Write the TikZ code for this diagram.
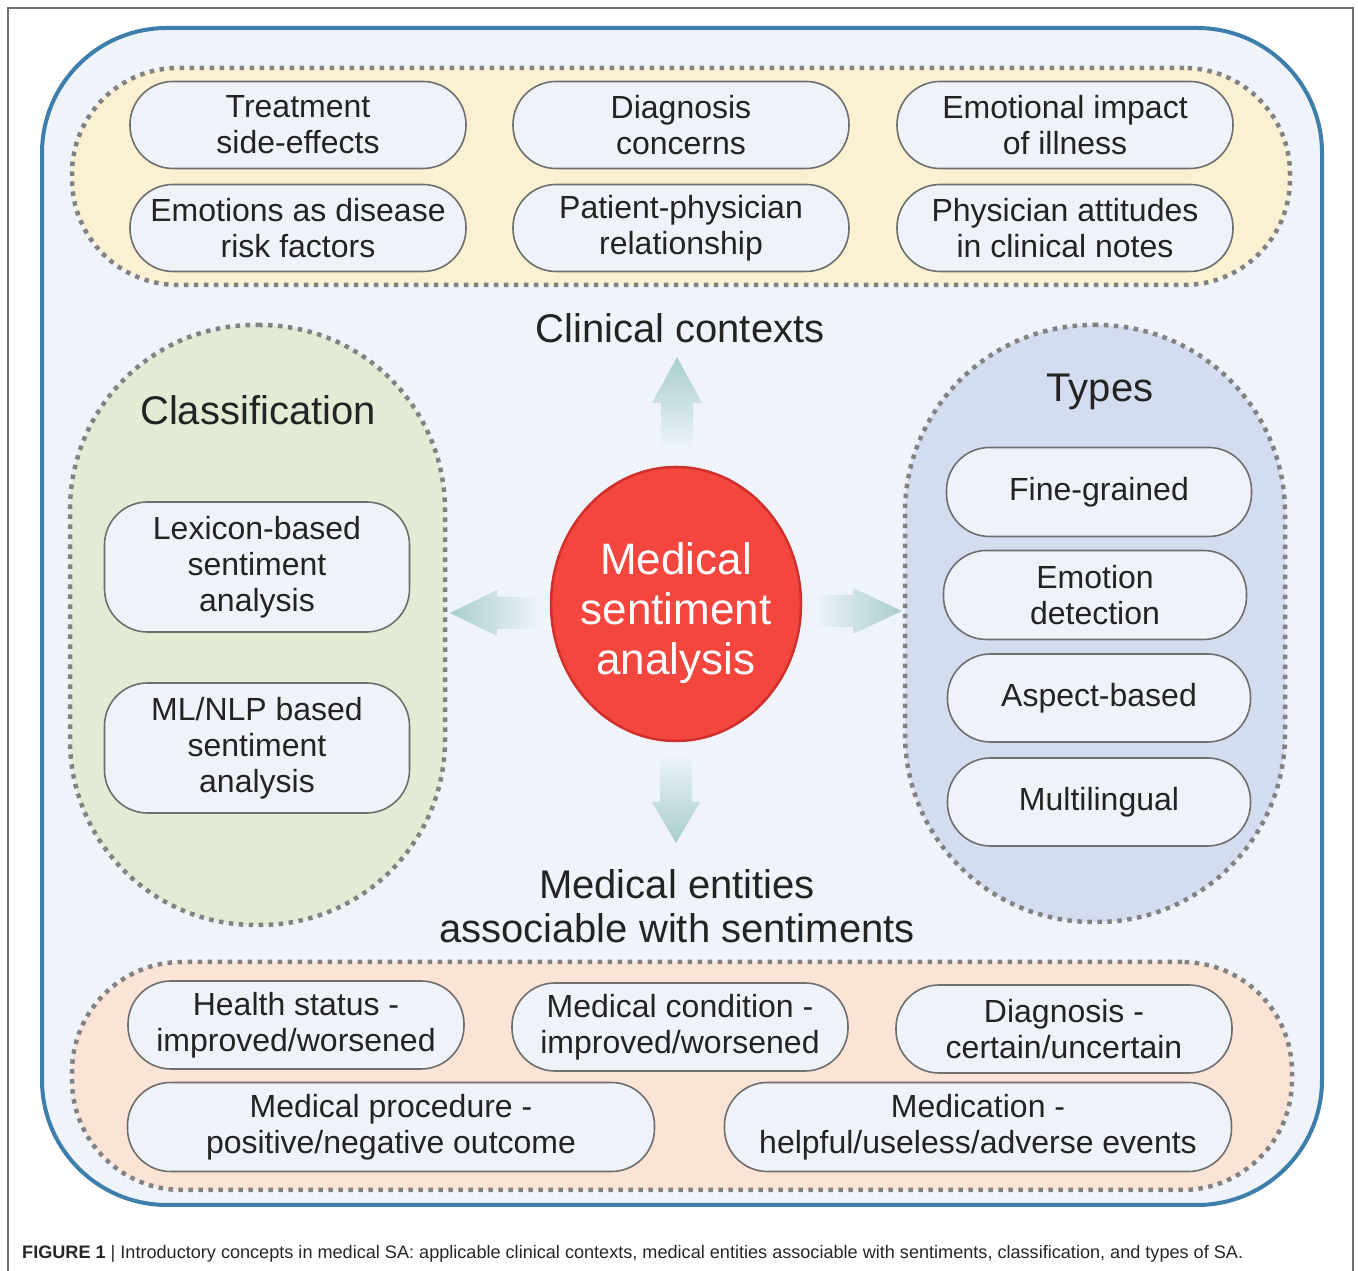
\documentclass[tikz,border=0pt]{standalone}
\usepackage{fontspec}
\setmainfont{Liberation Sans}
\usepackage{xcolor}
\usepackage{tikz}
\usetikzlibrary{
  positioning,
  shapes.geometric
}
\definecolor{frameblue}{HTML}{3D7EAA}
\definecolor{framegray}{HTML}{6F6F6F}
\definecolor{bgblue}{HTML}{EFF4FA}
\definecolor{ctxyellow}{HTML}{FCF0D3}
\definecolor{clsgreen}{HTML}{E2ECD5}
\definecolor{typblue}{HTML}{D4DDF0}
\definecolor{entpeach}{HTML}{FBE3D5}
\definecolor{boxfill}{HTML}{EFF3F9}
\definecolor{boxgray}{HTML}{6E6E6E}
\definecolor{dotgray}{HTML}{828282}
\definecolor{txtdark}{HTML}{232323}
\definecolor{redfill}{HTML}{F2463E}
\definecolor{reddark}{HTML}{D0302B}
\definecolor{arrowc}{HTML}{A9CEC9}

\begin{document}
\begin{tikzpicture}[
  x=1pt, y=1pt,
  grp/.style={draw=dotgray, line width=4.5pt, dash pattern=on 4.5pt off 5.5pt},
  box/.style={draw=boxgray, line width=1.6pt, fill=boxfill,
              rounded corners=43pt, minimum width=336pt, minimum height=87pt,
              align=center, inner sep=0pt, text=txtdark,
              font=\fontsize{32}{36}\selectfont},
  ttl/.style={align=center, text=txtdark, font=\fontsize{40}{44}\selectfont},
]
  \useasboundingbox (0,0) rectangle (1358,1271);

  % Figure frame
  \draw[framegray, line width=1.2pt] (8,0) -- (8,1263) -- (1353,1263) -- (1353,0);

  % Panel
  \node[draw=frameblue, line width=4pt, fill=bgblue, rounded corners=125pt,
        minimum width=1280pt, minimum height=1177pt] (panel) at (682,654.5) {};

  % Groups
  \node[grp, fill=ctxyellow, rounded corners=106pt,
        minimum width=1218pt, minimum height=217pt] (ctxgrp) at (681,1094.5) {};
  \node[grp, fill=clsgreen, rounded corners=185pt,
        minimum width=375pt, minimum height=600pt] (clsgrp) at (257.5,646) {};
  \node[grp, fill=typblue, rounded corners=188pt,
        minimum width=380pt, minimum height=597pt] (typgrp) at (1095,647.5) {};
  \node[grp, fill=entpeach, rounded corners=110pt,
        minimum width=1220pt, minimum height=228pt] (entgrp) at (682,195) {};

  % Clinical contexts
  \node[box] (sidefx) at (298,1146) {Treatment\\side-effects};
  \node[box] (diagcon) at (681,1146) {Diagnosis\\concerns};
  \node[box] (emoimp) at (1065,1146) {Emotional impact\\of illness};
  \node[box] (emorisk) at (298,1043) {Emotions as disease\\risk factors};
  \node[box] (patphy) at (681,1043) {Patient-physician\\relationship};
  \node[box] (phyatt) at (1065,1043) {Physician attitudes\\in clinical notes};
  \node[ttl] (ctxttl) at (680,943) {Clinical contexts};

  % Classification
  \node[ttl] (clsttl) at (258,861) {Classification};
  \node[box, minimum width=305pt, minimum height=130pt] (lexsa) at (257,704)
    {Lexicon-based\\sentiment\\analysis};
  \node[box, minimum width=305pt, minimum height=130pt] (mlsa) at (257,523)
    {ML/NLP based\\sentiment\\analysis};

  % Types
  \node[ttl] (typttl) at (1100,879) {Types};
  \node[box, minimum width=305pt, minimum height=89pt] (finegr) at (1099,779) {Fine-grained};
  \node[box, minimum width=303pt, minimum height=89pt] (emodet) at (1095,676) {Emotion\\detection};
  \node[box, minimum width=303pt, minimum height=88pt] (aspect) at (1099,573) {Aspect-based};
  \node[box, minimum width=303pt, minimum height=88pt] (multi) at (1099,469) {Multilingual};

  % Medical entities
  \node[ttl] (entttl) at (677,365) {Medical entities\\associable with sentiments};
  \node[box, minimum height=88pt] (hstat) at (296,246) {Health status -\\improved/worsened};
  \node[box, minimum height=88pt] (mcond) at (680,244) {Medical condition -\\improved/worsened};
  \node[box, minimum height=88pt] (diagc) at (1064,242) {Diagnosis -\\certain/uncertain};
  \node[box, minimum width=527pt, minimum height=89pt] (mproc) at (391,144)
    {Medical procedure -\\positive/negative outcome};
  \node[box, minimum width=507pt, minimum height=89pt] (medic) at (978,144)
    {Medication -\\helpful/useless/adverse events};

  % Centre
  \node[ellipse, draw=reddark, line width=2.5pt, fill=redfill, inner sep=0pt,
        minimum width=250pt, minimum height=274pt,
        label={[yshift=-9pt, text=white, align=center,
                font=\fontsize{44}{50}\selectfont]center:Medical\\sentiment\\analysis}]
    (msa) at (676,667) {};

  % Block arrows
  \coordinate (upTip) at (677,914);
  \coordinate (dnTip) at (676,428);
  \coordinate (lfTip) at (450,658);
  \coordinate (rtTip) at (902,660);
  \shade[top color=arrowc, middle color=arrowc, bottom color=bgblue]
    (upTip) -- ++(25,-46) -- ++(-9,0) -- ++(0,-47) -- ++(-32,0)
    -- ++(0,47) -- ++(-9,0) -- cycle;
  \shade[bottom color=arrowc, middle color=arrowc, top color=bgblue]
    (dnTip) -- ++(24,41) -- ++(-8,0) -- ++(0,49) -- ++(-32,0)
    -- ++(0,-49) -- ++(-8,0) -- cycle;
  \shade[left color=arrowc, middle color=arrowc, right color=bgblue]
    (lfTip) -- ++(47,23) -- ++(0,-7) -- ++(43,0) -- ++(0,-32)
    -- ++(-43,0) -- ++(0,-7) -- cycle;
  \shade[right color=arrowc, middle color=arrowc, left color=bgblue]
    (rtTip) -- ++(-49,23) -- ++(0,-7) -- ++(-40,0) -- ++(0,-32)
    -- ++(40,0) -- ++(0,-7) -- cycle;

  % Caption
  \node[anchor=base west, inner sep=0pt, text=black!85,
        font=\fontsize{18.1}{20}\selectfont] (caption) at (22,12)
    {\textbf{FIGURE 1} | Introductory concepts in medical SA: applicable clinical
     contexts, medical entities associable with sentiments, classification, and
     types of SA.};

\end{tikzpicture}
\end{document}
